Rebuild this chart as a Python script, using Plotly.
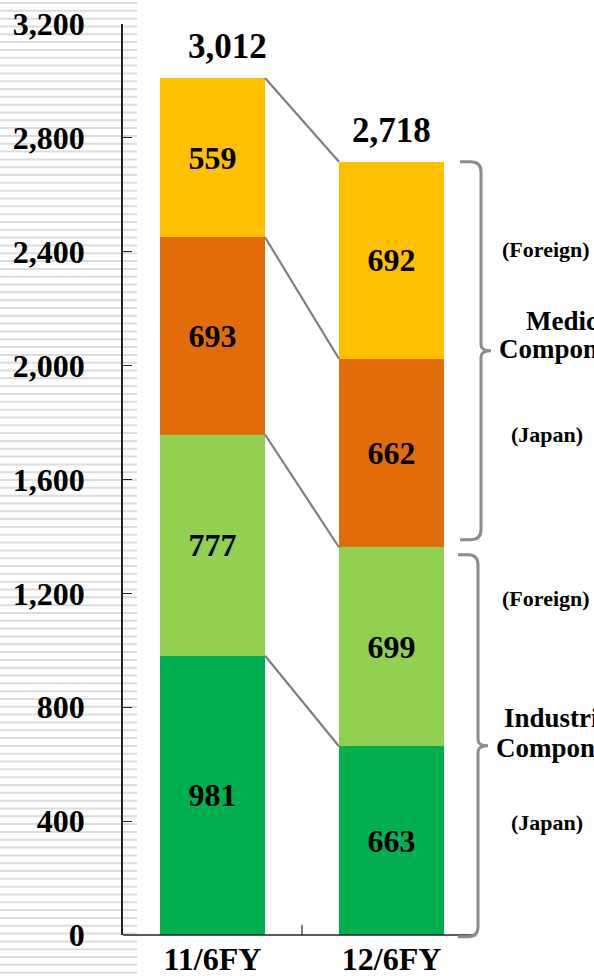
import plotly.graph_objects as go

# ---- data ----
periods = ["11/6FY", "12/6FY"]
industrial_japan = [981, 663]
industrial_foreign = [777, 699]
medical_japan = [693, 662]
medical_foreign = [559, 692]
total_labels = ["3,012", "2,718"]

series = [
    ("Industrial (Japan)", industrial_japan, "#00B050"),
    ("Industrial (Foreign)", industrial_foreign, "#92D050"),
    ("Medical (Japan)", medical_japan, "#E36C0A"),
    ("Medical (Foreign)", medical_foreign, "#FFC000"),
]

Y_MAX = 3200
W, H = 594, 976
ML, MR, MT, MB = 123, 0, 24, 41
PW, PH = W - ML - MR, H - MT - MB
BAR_W = 0.587
X_RANGE = [-0.5, -0.5 + PW / 179.0]

FONT = "Liberation Serif"


def xp(px):
    return (px - ML) / PW


def yp(py):
    return (H - MB - py) / PH


def vp(v):
    return v / Y_MAX


xs = list(range(len(periods)))
fig = go.Figure()

for name, vals, color in series:
    fig.add_trace(go.Bar(
        x=xs, y=vals, name=name, width=BAR_W,
        marker=dict(color=color, line=dict(width=0)),
        text=[str(v) for v in vals],
        textposition="inside", insidetextanchor="middle", textangle=0,
        insidetextfont=dict(family=FONT, size=32, color="black", weight="bold"),
        constraintext="none",
        hoverinfo="skip",
    ))

# cumulative boundaries for the connecting lines
cum = []
for i in range(len(periods)):
    acc, row = 0, []
    for _, vals, _ in series:
        acc += vals[i]
        row.append(acc)
    cum.append(row)

shapes = []
for k in range(len(series)):
    shapes.append(dict(
        type="line", xref="x", yref="y",
        x0=0 + BAR_W / 2, y0=cum[0][k], x1=1 - BAR_W / 2, y1=cum[1][k],
        line=dict(color="#7f7f7f", width=2.2), layer="above",
    ))

# horizontal stripes at the left edge
stripe_path = ""
yc = 3.0
while yc < H:
    stripe_path += f"M{xp(0):.5f},{yp(yc - 1):.5f} H{xp(137):.5f} V{yp(yc + 1):.5f} H{xp(0):.5f} Z "
    yc += 7.82
shapes.append(dict(type="path", xref="paper", yref="paper", path=stripe_path,
                   fillcolor="#dcdcdc", line=dict(width=0), layer="below"))

# x-axis base line and the divider tick
shapes.append(dict(type="line", xref="paper", yref="paper",
                   x0=0, y0=0, x1=xp(476), y1=0,
                   line=dict(color="#222222", width=1.5), layer="above"))
shapes.append(dict(type="line", xref="x", yref="paper",
                   x0=0.5, y0=0, x1=0.5, y1=yp(925),
                   line=dict(color="#222222", width=1.2), layer="above"))


def brace(top, bottom, x_end, x_mid, x_tip):
    """Right curly brace between two values (paper coords)."""
    t, b = vp(top), vp(bottom)
    m = (t + b) / 2
    rx, ry = (x_mid - x_end), 10 / PH
    tip_y = 6 / PH
    p = (f"M{x_end},{t} "
         f"L{x_mid - rx * 0.5},{t} Q{x_mid},{t} {x_mid},{t - ry} "
         f"L{x_mid},{m + tip_y} Q{x_mid},{m} {x_tip},{m} "
         f"Q{x_mid},{m} {x_mid},{m - tip_y} "
         f"L{x_mid},{b + ry} Q{x_mid},{b} {x_mid - rx * 0.5},{b} L{x_end},{b}")
    return dict(type="path", xref="paper", yref="paper", path=p,
                line=dict(color="#8c8c8c", width=3), layer="above")


gap = 26
shapes.append(brace(cum[1][3], cum[1][1] + gap, xp(460), xp(481), xp(491)))
shapes.append(brace(cum[1][1] - gap, -6, xp(458), xp(478), xp(488)))

annotations = []
# totals above the bars
for i, (lab, xs_shift) in enumerate(zip(total_labels, [15, 0])):
    annotations.append(dict(
        x=i, y=cum[i][-1], xref="x", yref="y", text=lab, showarrow=False,
        yanchor="bottom", yshift=10, xshift=xs_shift,
        font=dict(family=FONT, size=35, color="black", weight="bold"),
    ))

# segment group labels on the right
side = [
    ("(Foreign)", 500, 250, 22),
    ("Medical", 524, 321, 27),
    ("Components", 497, 349, 27),
    ("(Japan)", 509, 434, 22),
    ("(Foreign)", 500, 598, 22),
    ("Industrial", 502, 718, 27),
    ("Components", 494, 748, 27),
    ("(Japan)", 509, 822, 22),
]
for text, left, cy, size in side:
    annotations.append(dict(
        x=xp(left), y=yp(cy), xref="paper", yref="paper", text=text,
        showarrow=False, xanchor="left", yanchor="middle",
        font=dict(family=FONT, size=size, color="black", weight="bold"),
    ))

fig.update_layout(
    width=W, height=H,
    margin=dict(l=ML, r=MR, t=MT, b=MB, pad=0, autoexpand=False),
    barmode="stack",
    showlegend=False,
    plot_bgcolor="white", paper_bgcolor="white",
    shapes=shapes,
    annotations=annotations,
    xaxis=dict(
        range=X_RANGE, tickvals=xs, ticktext=periods,
        showline=False, showgrid=False, zeroline=False, ticks="",
        tickfont=dict(family=FONT, size=32, color="black", weight="bold"),
        ticklabelstandoff=2, automargin=False,
    ),
    yaxis=dict(
        range=[0, Y_MAX], tickvals=list(range(0, Y_MAX + 1, 400)),
        tickformat=",", showgrid=False, zeroline=False,
        showline=True, linecolor="#222222", linewidth=1.5,
        ticks="inside", ticklen=9, tickcolor="#222222", tickwidth=1.2,
        tickfont=dict(family=FONT, size=32, color="black", weight="bold"),
        ticklabelstandoff=30, automargin=False,
    ),
)

fig.write_html("out.html")
